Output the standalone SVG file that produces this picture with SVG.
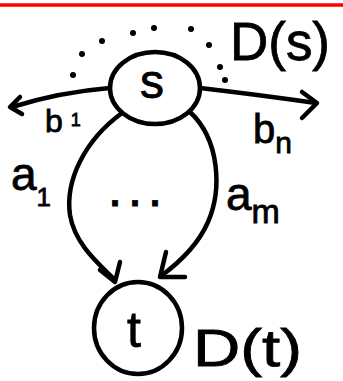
<svg xmlns="http://www.w3.org/2000/svg" width="343" height="381" viewBox="0 0 343 381">
<style>
.ln{fill:none;stroke:#000;stroke-width:4.5;stroke-linecap:round;stroke-linejoin:round}
.tx{font-family:"Liberation Sans",Arial,sans-serif;fill:#000;stroke:#000;stroke-width:0.8}
.dot{fill:#000}
</style>
<rect width="343" height="381" fill="#fff"/>
<line x1="0" y1="5" x2="343" y2="5" stroke="#ff0000" stroke-width="3.5"/>
<g id="connectors">
<path class="ln" d="M110,88 Q60,92 12,107"/>
<path class="ln" d="M20,97 L10,107 L22,114"/>
<path class="ln" d="M200,88 Q260,95 316,103"/>
<path class="ln" d="M302,92 L317,103 L302,118"/>
<path class="ln" d="M122,113 C85,140 65,180 70,215 C75,245 100,265 115,280"/>
<path class="ln" d="M120,262 L115,282 L100,270"/>
<path class="ln" d="M190,112 C220,140 222,190 208,222 C198,245 180,262 161,276"/>
<path class="ln" d="M166,252 L160,277 L185,277"/>
</g>
<g id="node-s">
<ellipse class="ln" cx="155" cy="88" rx="45" ry="36"/>
<text class="tx" x="152" y="98" font-size="48" text-anchor="middle">s</text>
</g>
<g id="region-s">
<circle class="dot" cx="73" cy="75" r="3"/>
<circle class="dot" cx="82" cy="54" r="3"/>
<circle class="dot" cx="102" cy="41" r="3"/>
<circle class="dot" cx="133" cy="33" r="3"/>
<circle class="dot" cx="154" cy="28" r="3"/>
<circle class="dot" cx="191" cy="29" r="3"/>
<circle class="dot" cx="209" cy="45" r="3"/>
<circle class="dot" cx="220" cy="67" r="3"/>
<circle class="dot" cx="225" cy="80" r="3"/>
<text class="tx" x="230" y="60" font-size="54" textLength="100" lengthAdjust="spacingAndGlyphs">D(s)</text>
</g>
<g id="node-t">
<ellipse class="ln" cx="138" cy="328" rx="44" ry="46"/>
<text class="tx" x="134" y="347" font-size="50" text-anchor="middle">t</text>
<text class="tx" x="193" y="366" font-size="52" textLength="109" lengthAdjust="spacingAndGlyphs">D(t)</text>
</g>
<g id="labels">
<text class="tx" x="45" y="132" font-size="32">b<tspan font-size="18" dx="8" dy="-6">1</tspan></text>
<text class="tx" x="253" y="143" font-size="40">b<tspan font-size="30" dy="10">n</tspan></text>
<text class="tx" x="11" y="190" font-size="46">a<tspan font-size="26" dy="16">1</tspan></text>
<text class="tx" x="226" y="210" font-size="46">a<tspan font-size="34" dy="13">m</tspan></text>
<text class="tx" x="110" y="206" font-size="36" font-weight="bold" letter-spacing="10">...</text>
</g>
</svg>
